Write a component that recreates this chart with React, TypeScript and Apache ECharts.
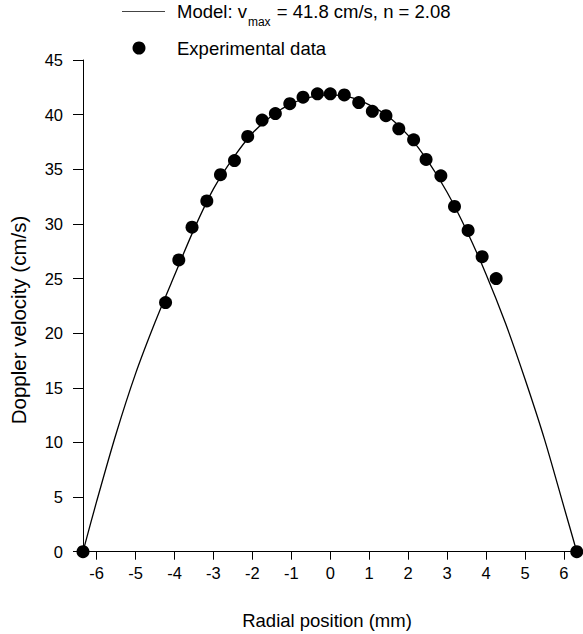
import React, { useEffect, useRef } from "react";
import * as echarts from "echarts";

// Experimental data (radial position mm, Doppler velocity cm/s)
const expX = [-6.35, -4.23, -3.89, -3.55, -3.17, -2.82, -2.46, -2.12, -1.75, -1.41, -1.04, -0.7, -0.33, 0.0, 0.36, 0.73, 1.08, 1.43, 1.76, 2.14, 2.46, 2.84, 3.19, 3.54, 3.9, 4.26, 6.33];
const expY = [0, 22.8, 26.7, 29.7, 32.1, 34.5, 35.8, 38.0, 39.5, 40.1, 41.0, 41.6, 41.9, 41.9, 41.8, 41.1, 40.3, 39.9, 38.7, 37.7, 35.9, 34.4, 31.6, 29.4, 27.0, 25.0, 0];

// Model curve
const modelX = [-6.35, -6.0, -5.5, -5.0, -4.5, -4.0, -3.5, -3.0, -2.5, -2.0, -1.5, -1.0, -0.5, 0, 0.5, 1.0, 1.5, 2.0, 2.5, 3.0, 3.5, 4.0, 4.5, 5.0, 5.5, 6.0, 6.33];
const modelY = [0, 4.6, 10.8, 16.3, 21.0, 25.3, 29.5, 33.2, 36.0, 38.3, 39.9, 41.0, 41.6, 41.8, 41.6, 40.9, 39.8, 38.1, 35.8, 32.9, 29.4, 25.4, 20.9, 15.8, 10.3, 4.1, 0];

const xTicks = [-6, -5, -4, -3, -2, -1, 0, 1, 2, 3, 4, 5, 6];

const FONT = "'Liberation Sans', Arial, Helvetica, sans-serif";

export default function App() {
  const ref = useRef<HTMLDivElement>(null);
  useEffect(() => {
    if (!ref.current) return;
    const chart = echarts.init(ref.current, null, { renderer: "svg" });
    chart.setOption({
      animation: false,
      backgroundColor: "#ffffff",
      textStyle: { fontFamily: FONT },
      grid: { left: 83, right: 0, top: 60, bottom: 82.3, containLabel: false },
      xAxis: {
        type: "value",
        min: -6.35,
        max: 6.49,
        splitNumber: 13,
        axisLine: { show: true, onZero: false, lineStyle: { color: "#000", width: 1 } },
        axisTick: { show: true, length: 8, lineStyle: { color: "#000" }, customValues: xTicks },
        axisLabel: { color: "#000", fontSize: 16.5, fontFamily: FONT, margin: 13, customValues: xTicks },
        splitLine: { show: false },
      },
      yAxis: {
        type: "value",
        min: 0,
        max: 45,
        interval: 5,
        axisLine: { show: true, onZero: false, lineStyle: { color: "#000", width: 1 } },
        axisTick: { show: true, length: 10, lineStyle: { color: "#000" } },
        axisLabel: { color: "#000", fontSize: 16.5, fontFamily: FONT, margin: 20 },
        splitLine: { show: false },
      },
      graphic: [
        {
          type: "text",
          x: 327,
          y: 620,
          style: { text: "Radial position (mm)", fontSize: 18.5, fontFamily: FONT, fill: "#000", align: "center", verticalAlign: "middle" },
        },
        {
          type: "text",
          x: 18,
          y: 320,
          rotation: Math.PI / 2,
          style: { text: "Doppler velocity (cm/s)", fontSize: 20.5, fontFamily: FONT, fill: "#000", align: "center", verticalAlign: "middle" },
        },
        {
          type: "line",
          shape: { x1: 122, y1: 11.5, x2: 165, y2: 11.5 },
          style: { stroke: "#444", lineWidth: 1 },
        },
        {
          type: "text",
          x: 177,
          y: 2,
          style: {
            text: "{a|Model: v}{s|max}{a| = 41.8 cm/s, n = 2.08}",
            fontFamily: FONT,
            fill: "#000",
            rich: {
              a: { fontSize: 18.5, lineHeight: 22, verticalAlign: "top", fontFamily: FONT, fill: "#000" },
              s: { fontSize: 12, lineHeight: 12, padding: [14, 1, 0, 1], verticalAlign: "top", fontFamily: FONT, fill: "#000" },
            },
          },
        },
        {
          type: "circle",
          shape: { cx: 139, cy: 48, r: 6.5 },
          style: { fill: "#000" },
        },
        {
          type: "text",
          x: 177,
          y: 48,
          style: { text: "Experimental data", fontSize: 18.5, fontFamily: FONT, fill: "#000", verticalAlign: "middle" },
        },
      ],
      series: [
        {
          name: "Model",
          type: "line",
          data: modelX.map((x, i) => [x, modelY[i]]),
          smooth: 0.3,
          symbol: "none",
          lineStyle: { color: "#000", width: 1.3 },
          clip: false,
          z: 2,
        },
        {
          name: "Experimental data",
          type: "scatter",
          data: expX.map((x, i) => [x, expY[i]]),
          symbol: "circle",
          symbolSize: 13,
          itemStyle: { color: "#000", opacity: 1 },
          clip: false,
          z: 3,
        },
      ],
    });
    return () => chart.dispose();
  }, []);
  return <div ref={ref} style={{ position: "fixed", left: 0, top: 0, width: 583, height: 634 }} />;
}
